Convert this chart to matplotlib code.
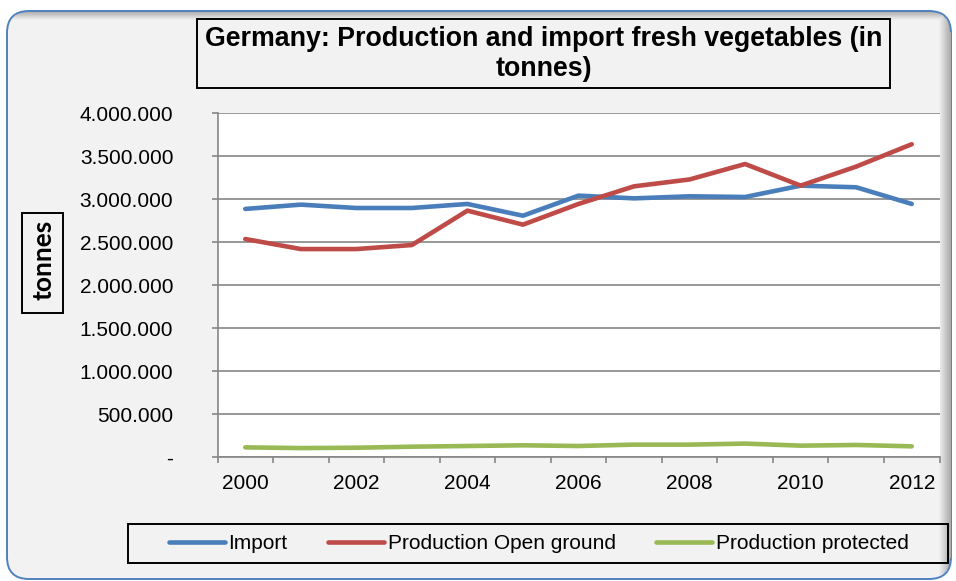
import matplotlib
matplotlib.use("Agg")
import numpy as np
import matplotlib.pyplot as plt
from matplotlib.patches import FancyBboxPatch, Rectangle
from matplotlib.ticker import FuncFormatter

years = [2000, 2001, 2002, 2003, 2004, 2005, 2006, 2007, 2008, 2009, 2010, 2011, 2012]
import_t = [2887000, 2937000, 2898000, 2898000, 2945000, 2808000, 3042000, 3010000, 3034000, 3026000, 3158000, 3139000, 2945000]
open_ground = [2537000, 2420000, 2420000, 2467000, 2867000, 2704000, 2945000, 3150000, 3230000, 3410000, 3158000, 3380000, 3640000]
protected = [112000, 104000, 108000, 120000, 128000, 136000, 128000, 144000, 144000, 156000, 132000, 140000, 124000]
series_names = ["Import", "Production Open ground", "Production protected"]
colors = ["#4a7ebb", "#be4b48", "#98b954"]
title = "Germany: Production and import fresh vegetables (in\ntonnes)"
ylabel = "tonnes"

plt.rcParams['font.family'] = ['Liberation Sans', 'DejaVu Sans']

W, H = 956, 581
fig = plt.figure(figsize=(W / 100, H / 100), dpi=100)
fig.patch.set_facecolor("white")

# ---- background frame with inner shadow (image) ----
fx0, fy0, fx1, fy1, rad = 7, 11, 951, 579, 22
yy, xx = np.mgrid[0:H, 0:W] + 0.5
cx = np.clip(xx, fx0 + rad, fx1 - rad)
cy = np.clip(yy, fy0 + rad, fy1 - rad)
inside = (xx >= fx0) & (xx <= fx1) & (yy >= fy0) & (yy <= fy1) & (np.hypot(xx - cx, yy - cy) <= rad)
dt = yy - fy0
dr = fx1 - xx
shade = np.maximum(np.clip(1 - dt / 9.0, 0, 1), np.clip(1 - dr / 12.0, 0, 1))
val = 0xf2 / 255 - shade * (0xf2 - 0xa8) / 255
img = np.ones((H, W, 3))
img[inside] = np.stack([val[inside]] * 3, axis=-1)
bg = fig.add_axes([0, 0, 1, 1], zorder=-10)
bg.imshow(img, extent=[0, W, H, 0], aspect="auto", interpolation="nearest")
bg.set_xlim(0, W)
bg.set_ylim(H, 0)
bg.axis("off")
border = FancyBboxPatch((fx0, fy0), fx1 - fx0, fy1 - fy0, boxstyle=f"round,pad=0,rounding_size={rad}",
                        transform=bg.transData, facecolor="none", edgecolor="#4f81bd", linewidth=1.4)
bg.add_patch(border)
bg.plot([fx1 - 0.5, fx1 - 0.5], [fy0 + rad, fy1 - rad], color="#b0b0b0", linewidth=1.4)

# ---- main plot ----
ax = fig.add_axes([217.5 / W, 1 - 457 / H, (939.5 - 217.5) / W, (457 - 113.3) / H])
ax.set_facecolor("white")
x = list(range(len(years)))
for vals, name, c in zip([import_t, open_ground, protected], series_names, colors):
    ax.plot(x, vals, color=c, linewidth=3.3, label=name, solid_capstyle="round", zorder=3)

ax.set_xlim(-0.5, len(years) - 0.5)
ax.set_ylim(0, 4000000)
ax.set_yticks(range(0, 4000001, 500000))
ax.yaxis.set_major_formatter(FuncFormatter(lambda v, p: "-" if v == 0 else f"{int(v):,}".replace(",", ".")))
ax.set_xticks(x[::2])
ax.set_xticklabels([str(y) for y in years[::2]])
ax.set_xticks([i - 0.5 for i in range(len(years) + 1)], minor=True)
ax.tick_params(axis="x", which="major", length=0, labelsize=15, pad=12)
ax.tick_params(axis="x", which="minor", length=4.3, color="#868686", width=1.2, direction="out")
ax.tick_params(axis="y", length=4.3, color="#868686", width=1.2, labelsize=15, pad=27.5)
ax.grid(axis="y", color="#868686", linewidth=1.2, zorder=0)
for s in ["top", "right"]:
    ax.spines[s].set_visible(False)
for s in ["left", "bottom"]:
    ax.spines[s].set_color("#868686")
    ax.spines[s].set_linewidth(1.2)

# ---- title box ----
fig.patches.append(Rectangle((197 / W, 1 - 88 / H), (890 - 197) / W, (88 - 19) / H, transform=fig.transFigure,
                             facecolor="none", edgecolor="black", linewidth=1.4, zorder=1))
fig.text(543.5 / W, 1 - 54 / H, title, ha="center", va="center", fontsize=19.3, fontweight="bold",
         linespacing=1.25, zorder=2)

# ---- y label box ----
fig.patches.append(Rectangle((22 / W, 1 - 313 / H), 41 / W, 100 / H, transform=fig.transFigure,
                             facecolor="none", edgecolor="black", linewidth=1.4, zorder=1))
fig.text(43 / W, 1 - 260 / H, ylabel, rotation=90, ha="center", va="center", fontsize=19,
         fontweight="bold", family=["Lato", "DejaVu Sans"], zorder=2)

# ---- legend ----
fig.patches.append(Rectangle((128 / W, 1 - 563 / H), (948 - 128) / W, (563 - 524) / H, transform=fig.transFigure,
                             facecolor="none", edgecolor="black", linewidth=1.4, zorder=1))
handles, labels = ax.get_legend_handles_labels()
leg = fig.legend(handles, labels, loc="center left", bbox_to_anchor=(169 / W, 1 - 543.5 / H), ncol=3,
                 fontsize=15, frameon=False, borderpad=0, borderaxespad=0,
                 handlelength=2.7, handletextpad=0.15, columnspacing=1.95)

fig.savefig("out.png", dpi=100, facecolor=fig.get_facecolor())
